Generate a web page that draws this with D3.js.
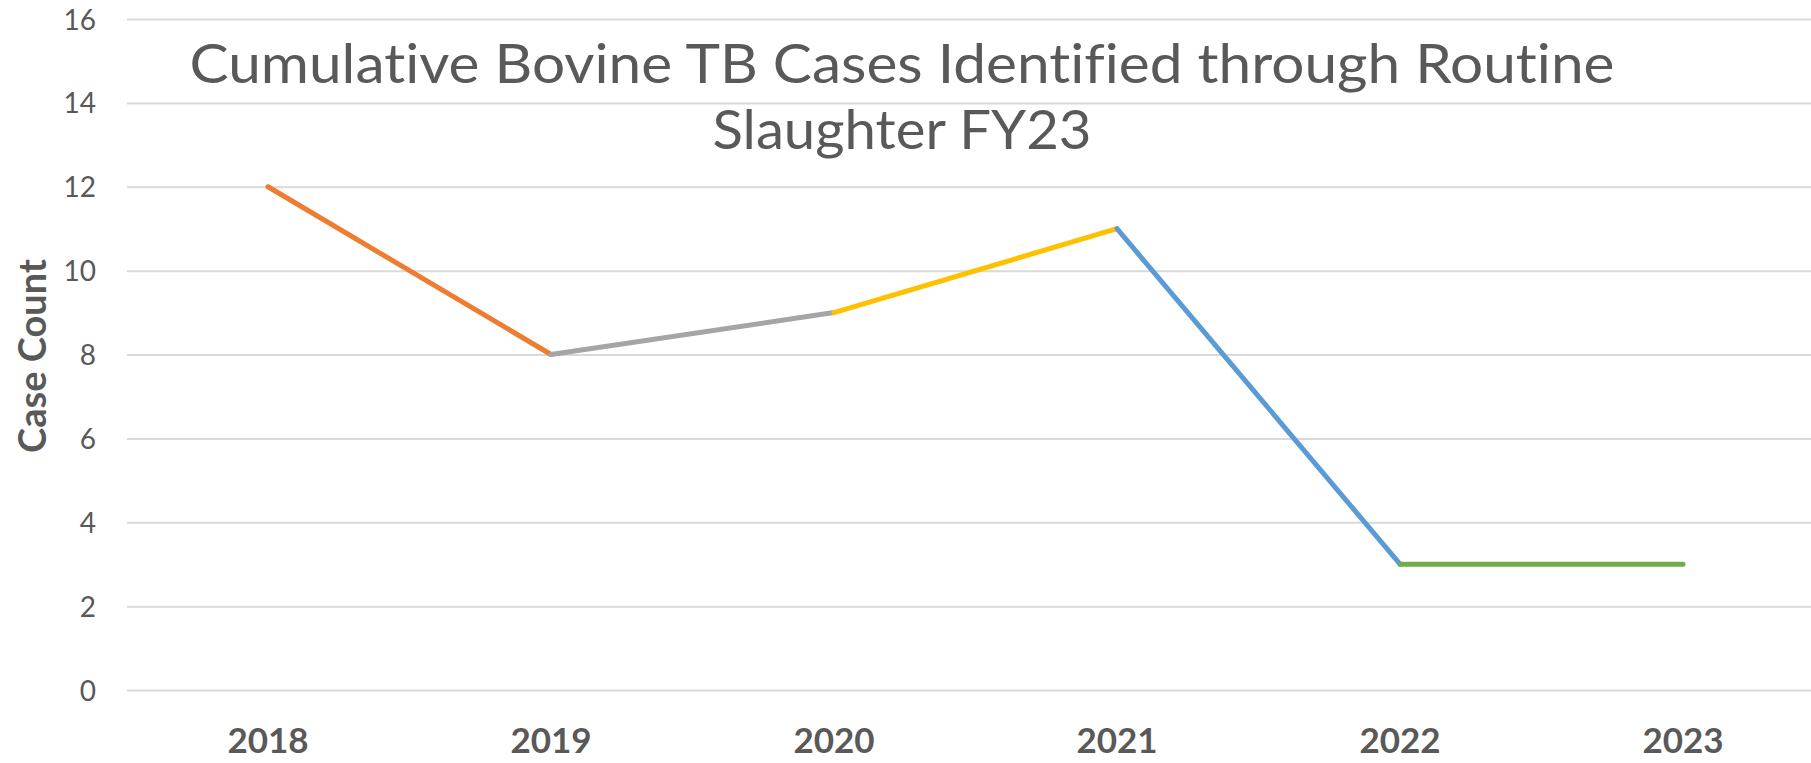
<!DOCTYPE html>
<html>
<head>
<meta charset="utf-8">
<script src="https://cdn.jsdelivr.net/npm/d3@7"></script>
<style>
  html, body { margin: 0; padding: 0; background: #fff; }
  svg { display: block; }
  text { font-variant-ligatures: none; }
</style>
</head>
<body>
<svg id="chart" width="1811" height="763"></svg>
<script>
const years = ["2018", "2019", "2020", "2021", "2022", "2023"];
const caseCounts = [12, 8, 9, 11, 3, 3];
const segmentColors = ["#ED7D31", "#A5A5A5", "#FFC000", "#5B9BD5", "#70AD47"];
const yTicks = [0, 2, 4, 6, 8, 10, 12, 14, 16];
const titleLines = ["Cumulative Bovine TB Cases Identified through Routine", "Slaughter FY23"];
const yAxisTitle = "Case Count";

const W = 1811, H = 763;
const svg = d3.select("#chart");
const textColor = "#595959";

const x = d3.scaleBand().domain(years).range([126.5, 126.5 + 6 * 283]).paddingInner(0).paddingOuter(0);
const y = d3.scaleLinear().domain([0, 16]).range([690, 19]);
const cx = d => x(d) + x.bandwidth() / 2;

// gridlines
const yAxis = d3.axisLeft(y).tickValues(yTicks).tickSize(0).tickPadding(0);
const gy = svg.append("g").attr("transform", "translate(127,0)").call(yAxis);
gy.select(".domain").remove();
gy.selectAll(".tick line").remove();
gy.selectAll(".tick").append("line")
  .attr("x1", 0).attr("x2", W - 127)
  .attr("stroke", "#D9D9D9").attr("stroke-width", 2);
gy.selectAll(".tick text")
  .attr("x", -31)
  .attr("dy", "0.36em")
  .attr("fill", textColor)
  .style("font-family", "Lato, 'Open Sans', sans-serif")
  .style("font-size", "28px")
  .attr("text-anchor", "end");

// x axis labels
const xAxis = d3.axisBottom(x).tickSize(0).tickPadding(0);
const gx = svg.append("g").attr("transform", "translate(0,690)").call(xAxis);
gx.select(".domain").remove();
gx.selectAll(".tick text")
  .attr("y", 63).attr("dy", 0)
  .attr("fill", textColor)
  .style("font-family", "Lato, 'Open Sans', sans-serif")
  .style("font-weight", "bold")
  .style("font-size", "35px");

// title
const title = svg.append("g");
const titleBaselines = [83, 149];
const titleWidths = [1425, 379];
titleLines.forEach((t, i) => {
  title.append("text")
    .attr("x", 902).attr("y", titleBaselines[i])
    .attr("text-anchor", "middle")
    .attr("fill", textColor)
    .attr("textLength", titleWidths[i])
    .attr("lengthAdjust", "spacingAndGlyphs")
    .style("font-family", "Lato, 'Open Sans', sans-serif")
    .style("font-size", "54px")
    .text(t);
});

// y axis title
svg.append("text")
  .attr("transform", "translate(46,356) rotate(-90)")
  .attr("text-anchor", "middle")
  .attr("fill", textColor)
  .style("font-family", "Lato, 'Open Sans', sans-serif")
  .style("font-weight", "bold")
  .style("font-size", "38px")
  .text(yAxisTitle);

// line segments
const pts = years.map((yr, i) => [cx(yr), y(caseCounts[i])]);
const lineGen = d3.line();
segmentColors.forEach((c, i) => {
  svg.append("path")
    .attr("d", lineGen([pts[i], pts[i + 1]]))
    .attr("fill", "none")
    .attr("stroke", c)
    .attr("stroke-width", 5)
    .attr("stroke-linecap", "round");
});
</script>
</body>
</html>
